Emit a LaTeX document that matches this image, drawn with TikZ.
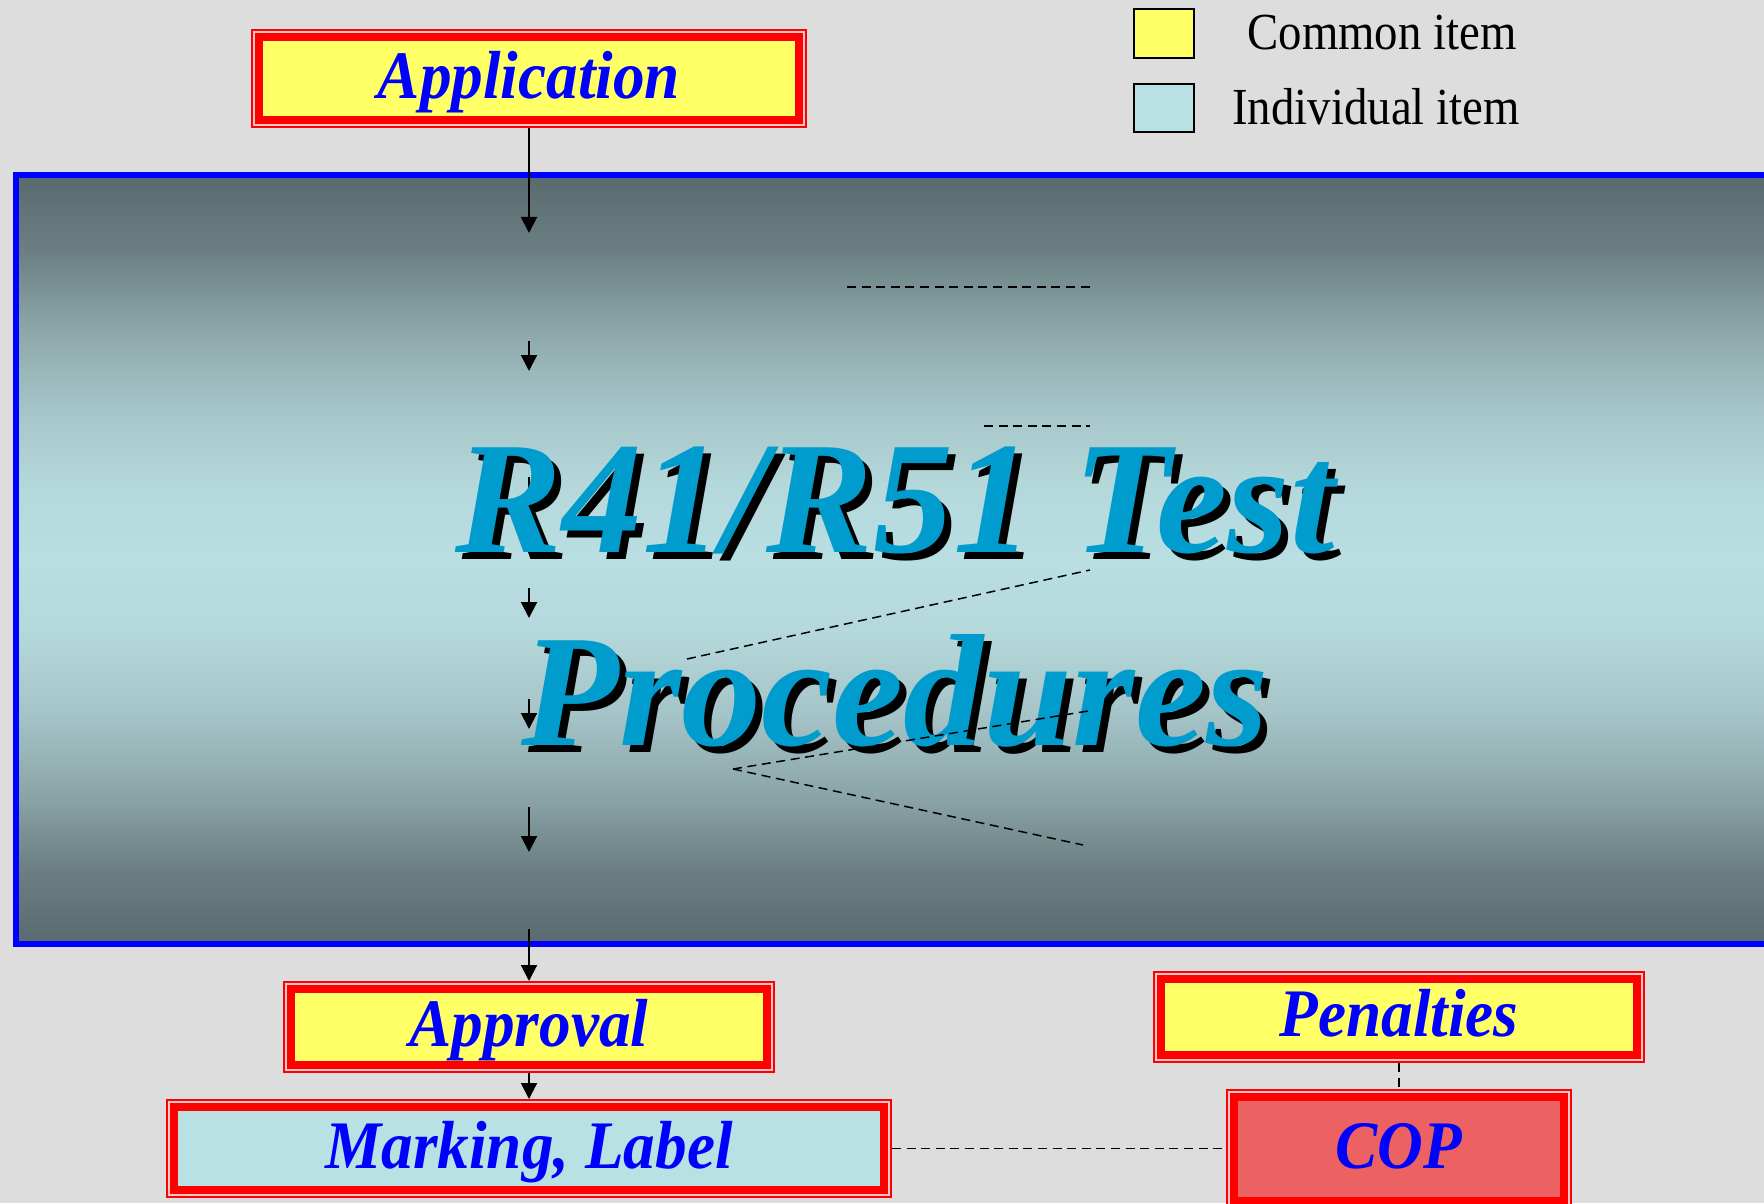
\documentclass[tikz,border=0pt]{standalone}
\usepackage{fontspec}
\setmainfont{Liberation Serif}
\newfontfamily\boxfont[FakeStretch=0.93]{Liberation Serif}
\newfontfamily\legfont[FakeStretch=0.9]{Liberation Serif}
\usetikzlibrary{arrows.meta}
\definecolor{bggray}{RGB}{221,221,221}
\definecolor{yel}{RGB}{255,255,102}
\definecolor{cyn}{RGB}{185,224,227}
\definecolor{redc}{RGB}{255,0,0}
\definecolor{gapc}{RGB}{250,200,200}
\definecolor{copc}{RGB}{236,98,98}
\definecolor{bluec}{RGB}{0,0,255}
\definecolor{titleblue}{RGB}{0,156,206}
\definecolor{pd}{RGB}{88,106,110}
\definecolor{p1}{RGB}{108,128,131}
\definecolor{p2}{RGB}{140,167,170}
\definecolor{p3}{RGB}{165,196,199}
\definecolor{p4}{RGB}{180,215,218}
\definecolor{pl}{RGB}{185,223,226}
\pgfdeclareverticalshading{panelshade}{100bp}{color(0bp)=(pd); color(25bp)=(pd); color(30bp)=(p1); color(35bp)=(p2); color(40bp)=(p3); color(45bp)=(p4); color(50bp)=(pl); color(55bp)=(p4); color(60bp)=(p3); color(65bp)=(p2); color(70bp)=(p1); color(75bp)=(pd); color(100bp)=(pd)}
\tikzset{
  itembox/.style={
    preaction={draw=redc, line width=8pt},
    preaction={draw=gapc, line width=6pt},
    draw=redc, line width=4pt, rectangle, inner sep=0pt, outer sep=4pt,
    text=bluec, text height=22.8pt, text depth=3pt,
    font=\boxfont\fontsize{34pt}{40pt}\selectfont\bfseries\itshape},
  titletext/.style={anchor=base, inner sep=0pt, text=titleblue,
    font=\fontsize{80pt}{96pt}\selectfont\bfseries\itshape},
  titleshadow/.style={titletext, text=black},
  legsq/.style={draw=black, line width=1pt, rectangle, inner sep=0pt, minimum width=30pt},
  legtext/.style={anchor=base, inner sep=0pt, text=black,
    font=\legfont\fontsize{26pt}{30pt}\selectfont},
  flowarrow/.style={draw=black, line width=1pt, -{Triangle[length=8pt,width=8pt]}},
  dashline/.style={draw=black, line width=0.75pt, dash pattern=on 4.5pt off 2.8pt}
}
\begin{document}
\begin{tikzpicture}[x=0.5pt, y=-0.5pt]
\useasboundingbox (0,0) rectangle (1764,1203);
\fill[bggray] (0,0) rectangle (1764,1203);
% panel
\shade[shading=panelshade] (15.5,175.5) rectangle (1790,944);
\draw[bluec, line width=3pt] (1790,175.5) -- (15.5,175.5) -- (15.5,944) -- (1790,944);
% legend
\node[legsq, fill=yel, minimum height=24.5pt] (legc) at (1164,33.5) {};
\node[legsq, fill=cyn, minimum height=24pt] (legi) at (1164,108) {};
\node[legtext] (legct) at (1382,50) {Common item};
\node[legtext] (legit) at (1376,125) {Individual item};
% boxes
\node[itembox, fill=yel, minimum width=270pt, minimum height=41.5pt] (app) at (529,78.5) {Application};
\node[itembox, fill=yel, minimum width=238pt, minimum height=38pt] (appr) at (529,1027) {Approval};
\node[itembox, fill=cyn, minimum width=355pt, minimum height=41.5pt] (mark) at (529,1148.5) {Marking, Label};
\node[itembox, fill=yel, minimum width=238pt, minimum height=38pt] (pen) at (1399,1017) {Penalties};
\node[itembox, fill=copc, minimum width=165pt, minimum height=52pt] (cop) at (1399,1149) {COP};
% segment seen through the R
\coordinate (rs1) at (529,477);
\coordinate (rs2) at (529,502);
\draw[line width=1pt] (rs1) -- (rs2);
% title
\node[titleshadow] (t1s) at (902,559) {R41/R51 Test};
\node[titletext] (t1) at (895,552) {R41/R51 Test};
\node[titleshadow] (t2s) at (902,752) {Procedures};
\node[titletext] (t2) at (895,745) {Procedures};
% arrow coordinates
\coordinate (a1e) at (529,233);
\coordinate (a2s) at (529,341); \coordinate (a2e) at (529,371);
\coordinate (a3s) at (529,588); \coordinate (a3e) at (529,618);
\coordinate (a4s) at (529,699); \coordinate (a4e) at (529,729);
\coordinate (a5s) at (529,807); \coordinate (a5e) at (529,852);
\coordinate (a6s) at (529,929);
\draw[flowarrow] (app.south) -- (a1e);
\draw[flowarrow] (a2s) -- (a2e);
\draw[flowarrow] (a3s) -- (a3e);
\draw[flowarrow] (a4s) -- (a4e);
\draw[flowarrow] (a5s) -- (a5e);
\draw[flowarrow] (a6s) -- (appr.north);
\draw[flowarrow] (appr.south) -- (mark.north);
% dashed lines
\coordinate (d1a) at (847,287); \coordinate (d1b) at (1090,287);
\coordinate (d2a) at (984,426); \coordinate (d2b) at (1090,426);
\coordinate (d3a) at (687,659); \coordinate (d3b) at (1090,570);
\coordinate (apex) at (733,769);
\coordinate (d4b) at (1088,711);
\coordinate (d5b) at (1083,845);
\draw[dashline] (d1a) -- (d1b);
\draw[dashline] (d2a) -- (d2b);
\draw[dashline] (d3a) -- (d3b);
\draw[dashline] (apex) -- (d4b);
\draw[dashline] (apex) -- (d5b);
\draw[dashline] (mark.east) -- (mark.east -| cop.west);
\draw[dashline] (pen.south) -- (cop.north);
\end{tikzpicture}
\end{document}
